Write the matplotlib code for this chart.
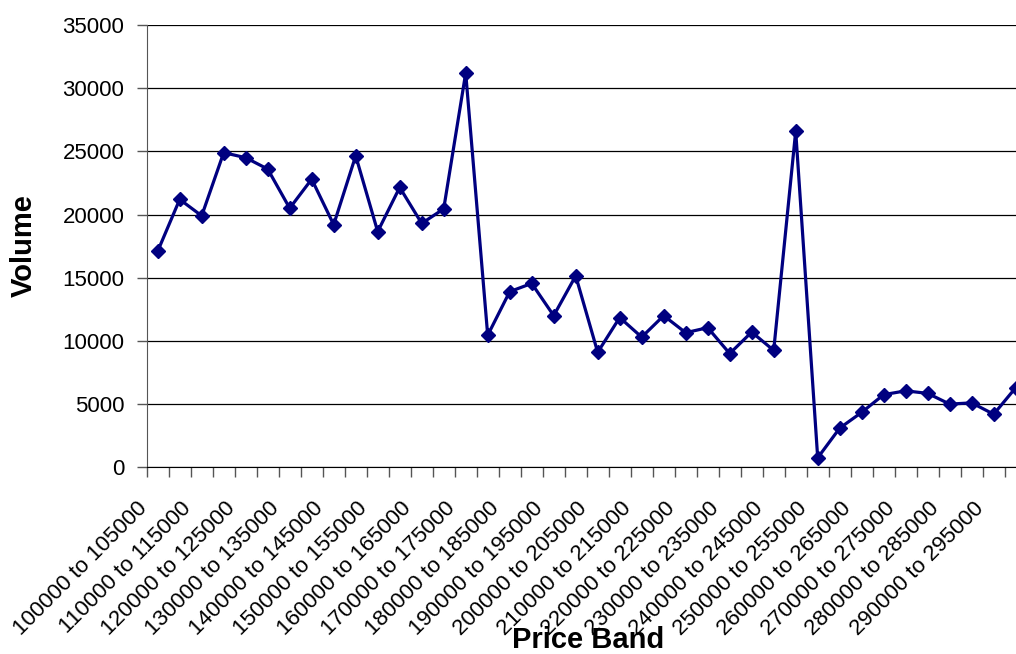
import matplotlib
matplotlib.use("Agg")
import matplotlib.pyplot as plt
import matplotlib.transforms as mtransforms
import numpy as np

plt.rcParams['font.family'] = ['Liberation Sans', 'DejaVu Sans']

# faixas de preço (5000 cada) de 100000 até 300000
inicio_faixas = list(range(100000, 300000, 5000))
faixas = [f"{a} to {a + 5000}" for a in inicio_faixas]

volumes = [17100, 21200, 19900, 24900, 24500, 23600, 20500, 22800, 19200, 24650,
           18650, 22150, 19300, 20450, 31200, 10450, 13900, 14550, 12000, 15150,
           9100, 11850, 10300, 12000, 10650, 11050, 9000, 10700, 9250, 26600,
           750, 3100, 4350, 5750, 6050, 5850, 5000, 5100, 4200, 6300]

y_ticks = list(range(0, 35001, 5000))

fig = plt.figure(figsize=(10.16, 6.54), dpi=100)
W, H = 1016, 654
esq, dir_, base, topo = 146.7, 1026.7, 467.3, 25.0
ax = fig.add_axes([esq / W, 1 - base / H, (dir_ - esq) / W, (base - topo) / H])

x = np.arange(len(volumes))
ax.plot(x, volumes, color="#000080", linewidth=2.3, marker="D", markersize=6.8,
        clip_on=False, zorder=3)

ax.set_xlim(-0.5, len(volumes) - 0.5)
ax.set_ylim(0, 35000)
ax.set_yticks(y_ticks)
ax.set_yticklabels([str(v) for v in y_ticks], fontsize=16)
ax.grid(axis="y", color="black", linewidth=0.9)
ax.set_axisbelow(True)

# rótulos a cada duas faixas, marcas nos limites das categorias
ax.set_xticks(x[::2])
ax.set_xticklabels(faixas[::2], rotation=45, ha="right", va="top", fontsize=16)
ax.set_xticks(np.arange(-0.5, len(volumes)), minor=True)
ax.tick_params(axis="x", which="major", length=0, pad=22)
ax.tick_params(axis="x", which="minor", length=7, width=1, color="#555555")
ax.tick_params(axis="y", length=7, width=1, pad=9, color="#555555")
desloc = mtransforms.ScaledTranslation(-6 / 100, 0, fig.dpi_scale_trans)
for lbl in ax.get_xticklabels():
    lbl.set_transform(lbl.get_transform() + desloc)

for lado in ["top", "right"]:
    ax.spines[lado].set_visible(False)
ax.spines["left"].set_color("#555555")
ax.spines["bottom"].set_color("black")

fig.text(24 / W, 1 - 246 / H, "Volume", rotation=90, fontsize=21,
         fontweight="bold", ha="center", va="center")
fig.text(588 / W, 6 / H, "Price Band", fontsize=21, fontweight="bold",
         ha="center", va="baseline")

fig.savefig("out.png", dpi=100)
